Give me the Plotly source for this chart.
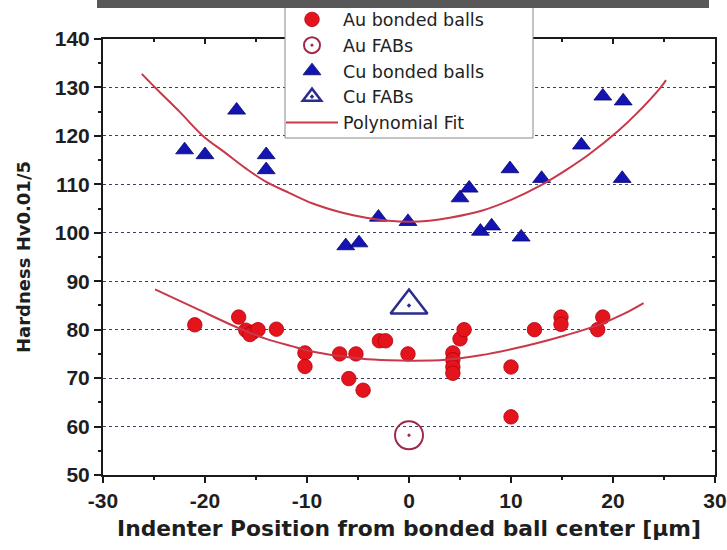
import plotly.graph_objects as go

# ---------------- data ----------------
au_x = [-21.0, -16.7, -16.0, -15.3, -15.6, -14.8, -13.0, -10.2, -10.2, -6.8,
        -5.9, -5.2, -4.5, -2.9, -2.3, -0.1, 4.3, 4.3, 4.3, 4.3,
        5.0, 5.4, 10.0, 10.0, 12.3, 14.9, 14.9, 18.5, 19.0]
au_y = [81.0, 82.6, 79.9, 79.5, 79.0, 80.0, 80.1, 75.2, 72.4, 75.0,
        69.9, 75.0, 67.5, 77.7, 77.7, 75.0, 75.2, 73.8, 72.3, 71.0,
        78.1, 80.0, 72.3, 62.0, 80.0, 82.6, 81.1, 80.0, 82.6]

au_fab_x = [0.0]
au_fab_y = [58.2]

cu_x = [-22.0, -20.0, -16.9, -14.0, -14.0, -6.2, -4.9, -3.0, -0.1, 5.0,
        5.9, 7.0, 8.1, 9.9, 11.0, 13.0, 16.9, 19.0, 21.0, 20.9]
cu_y = [117.1, 116.1, 125.3, 116.1, 113.0, 97.3, 97.9, 103.2, 102.3, 107.2,
        109.2, 100.3, 101.4, 113.2, 99.1, 111.2, 118.1, 128.2, 127.2, 111.2]

cu_fab_x = [0.0]
cu_fab_y = [85.0]

# polynomial fit curves
cu_fit_x = [-26.2, -24.9, -22.5, -20.2, -18.0, -16.0, -14.0, -11.7, -9.5, -6.8,
            -4.2, -2.0, 0.0, 2.0, 4.0, 7.2, 10.0, 13.0, 15.5, 17.6, 20.5, 22.5, 24.6, 25.2]
cu_fit_y = [132.8, 130.0, 125.0, 120.0, 116.5, 113.3, 110.5, 108.2, 106.1, 104.3,
            103.1, 102.5, 102.3, 102.5, 103.1, 104.6, 106.8, 109.9, 113.1, 116.1, 121.0, 125.0, 129.8, 131.5]

au_fit_x = [-24.9, -21.0, -17.0, -14.0, -11.5, -9.5, -7.0, -4.6, -2.0, 0.5,
            3.6, 7.0, 10.1, 12.5, 15.3, 18.6, 21.0, 23.0]
au_fit_y = [88.3, 84.5, 80.6, 78.1, 76.6, 75.5, 74.6, 74.0, 73.7, 73.6,
            73.8, 74.7, 76.0, 77.2, 78.8, 81.0, 83.2, 85.5]

x_ticks = [-30, -20, -10, 0, 10, 20, 30]
x_tick_text = ["-30", "-20", "-10", "0", "10", "20", "30"]
y_ticks = [50, 60, 70, 80, 90, 100, 110, 120, 130, 140]

x_title = "Indenter Position from bonded ball center [µm]"
y_title = "Hardness Hv0.01/5"
names = ["Au bonded balls", "Au FABs", "Cu bonded balls", "Cu FABs", "Polynomial Fit"]

# ---------------- figure ----------------
W, H = 727, 550
ML, MR, MT, MB = 103, 12, 39, 75
PW, PH = W - ML - MR, H - MT - MB


def px_x(p):
    return (p - ML) / PW


def px_y(p):
    return 1 - (p - MT) / PH


fig = go.Figure()

fig.add_trace(go.Scatter(
    x=au_x, y=au_y, mode="markers", name=names[0],
    marker=dict(symbol="circle", size=14.5, color="#e4141c",
                line=dict(color="#b4000e", width=0.8))))
fig.add_trace(go.Scatter(
    x=au_fab_x, y=au_fab_y, mode="markers", name=names[1],
    marker=dict(symbol="circle-open-dot", size=28, color="#a02848",
                line=dict(color="#a02848", width=2))))
fig.add_trace(go.Scatter(
    x=cu_x, y=cu_y, mode="markers", name=names[2],
    marker=dict(symbol="triangle-up", size=15.5, color="#1414b4",
                line=dict(color="#08086a", width=0.8))))
fig.add_trace(go.Scatter(
    x=cu_fab_x, y=cu_fab_y, mode="markers", name=names[3],
    marker=dict(symbol="triangle-up-open-dot", size=32, color="#2c2c8c",
                line=dict(color="#2c2c8c", width=2.5))))
fig.add_trace(go.Scatter(
    x=cu_fit_x, y=cu_fit_y, mode="lines", name=names[4], legendgroup="fit",
    line=dict(color="#c8384a", width=2, shape="spline")))
fig.add_trace(go.Scatter(
    x=au_fit_x, y=au_fit_y, mode="lines", name=names[4], legendgroup="fit",
    showlegend=False, line=dict(color="#c8384a", width=2, shape="spline")))
# helper trace so the mirrored (top/right) axes get drawn
fig.add_trace(go.Scatter(x=[], y=[], xaxis="x2", yaxis="y2", showlegend=False,
                         hoverinfo="skip"))

tick_font = dict(family="Liberation Sans", size=21, color="#1e1e1e", weight="bold")
axis_col = "#1a1a1a"

fig.update_layout(
    width=W, height=H,
    margin=dict(l=ML, r=MR, t=MT, b=MB, autoexpand=False),
    paper_bgcolor="white", plot_bgcolor="white",
    xaxis=dict(range=[-30, 30], tickvals=x_ticks, ticktext=x_tick_text,
               ticks="outside", ticklen=6,
               tickwidth=1.5, tickcolor=axis_col, showline=True, linecolor=axis_col,
               linewidth=2, showgrid=False, zeroline=False, tickfont=tick_font,
               minor=dict(dtick=5, tick0=0, ticks="outside", ticklen=3,
                          tickcolor=axis_col, showgrid=False),
               title=dict(text=x_title, standoff=10,
                          font=dict(family="DejaVu Sans", size=21.8, color="#1e1e1e",
                                    weight="bold"))),
    yaxis=dict(range=[50, 140], tickvals=y_ticks, ticks="outside", ticklen=7,
               tickwidth=1.5, tickcolor=axis_col, showline=True, linecolor=axis_col,
               linewidth=2, showgrid=True, gridcolor="#3a3f6a", gridwidth=1,
               griddash="dot", zeroline=False, tickfont=tick_font,
               minor=dict(dtick=5, tick0=0, ticks="outside", ticklen=3,
                          tickcolor=axis_col, showgrid=False),
               title=dict(text=y_title, standoff=19,
                          font=dict(family="DejaVu Sans", size=18, color="#1e1e1e",
                                    weight="bold"))),
    xaxis2=dict(overlaying="x", side="top", range=[-30, 30], tickvals=x_ticks,
                ticks="inside", ticklen=5, tickwidth=1.5, tickcolor=axis_col,
                showticklabels=False, showline=True, linecolor=axis_col, linewidth=2,
                showgrid=False, zeroline=False, anchor="y2",
                minor=dict(dtick=5, tick0=0, ticks="inside", ticklen=3,
                           tickcolor=axis_col, showgrid=False)),
    yaxis2=dict(overlaying="y", side="right", range=[50, 140], tickvals=y_ticks,
                ticks="inside", ticklen=6, tickwidth=1.5, tickcolor=axis_col,
                showticklabels=False, showline=True, linecolor=axis_col, linewidth=2,
                showgrid=False, zeroline=False, anchor="x2",
                minor=dict(dtick=5, tick0=0, ticks="inside", ticklen=3,
                           tickcolor=axis_col, showgrid=False)),
    legend=dict(x=px_x(281), xanchor="left", y=px_y(1.5), yanchor="top",
                bgcolor="rgba(0,0,0,0)", borderwidth=0, itemwidth=52,
                itemsizing="trace", tracegroupgap=0,
                font=dict(family="DejaVu Sans", size=17.5, color="#222222")),
    showlegend=True,
    shapes=[
        # legend frame (drawn above the grid, under the legend text)
        dict(type="rect", xref="paper", yref="paper", layer="above",
             x0=px_x(285), x1=px_x(533), y0=px_y(138), y1=px_y(-5),
             fillcolor="white", line=dict(color="#8a8a8a", width=1)),
        # dark band across the top of the picture
        dict(type="rect", xref="paper", yref="paper", layer="above",
             x0=px_x(97), x1=px_x(709), y0=px_y(8), y1=px_y(-5),
             fillcolor="#585858", line=dict(width=0)),
    ],
)

fig.write_html("out.html")
